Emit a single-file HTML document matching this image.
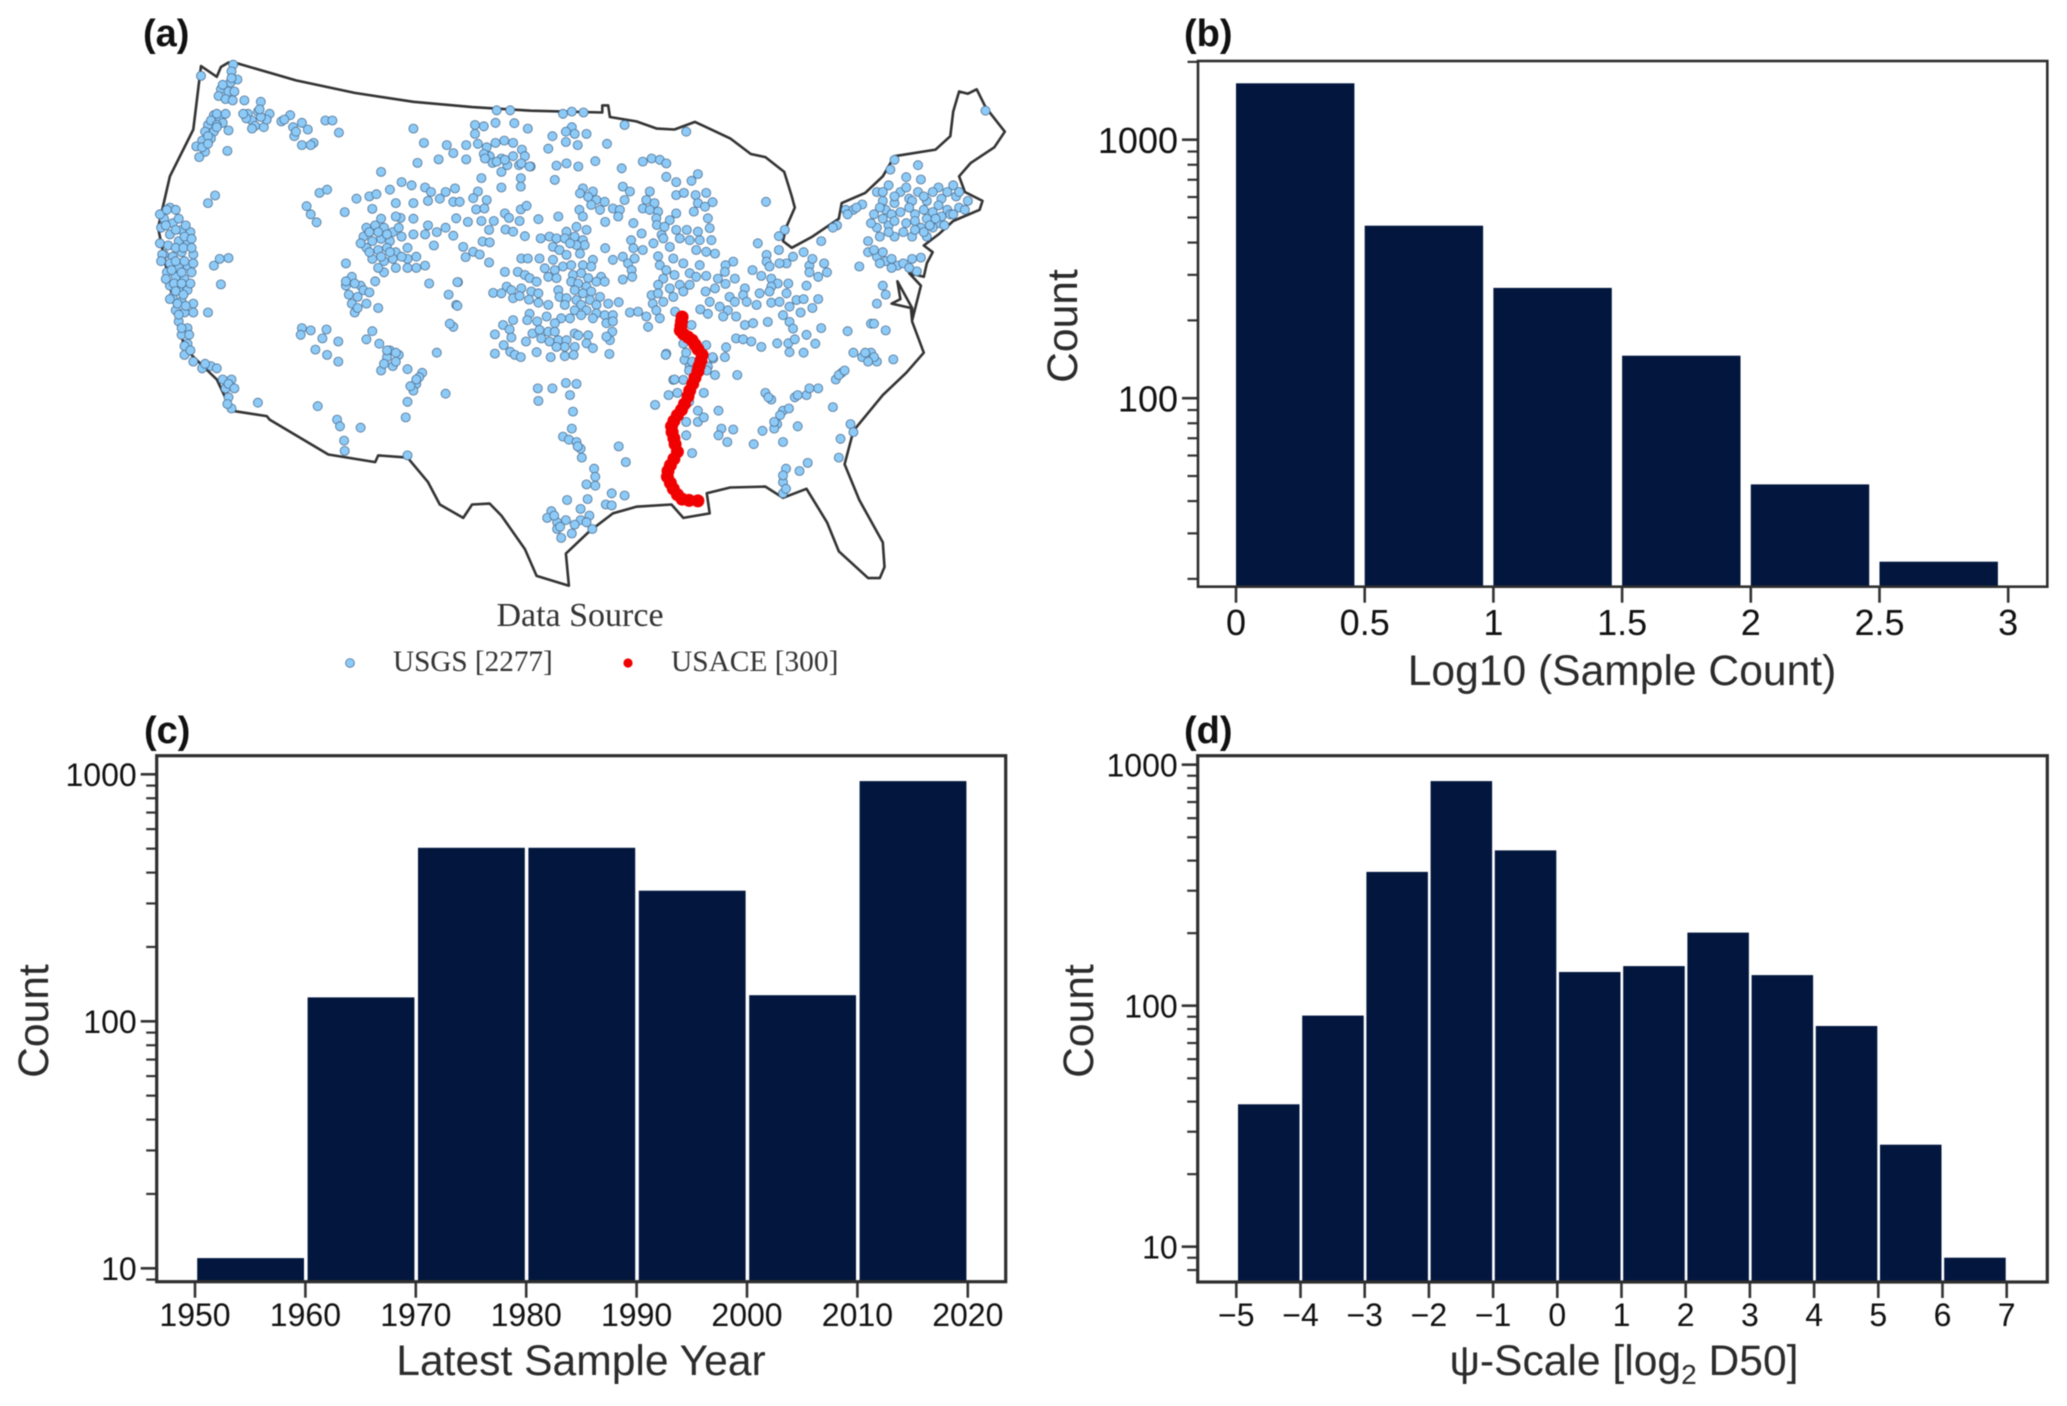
<!DOCTYPE html>
<html lang="en">
<head>
<meta charset="utf-8">
<title>Sediment sample dataset overview</title>
<style>
html,body{margin:0;padding:0;background:#fff;}
svg{display:block;font-family:"Liberation Sans",Arial,sans-serif;filter:blur(0.5px);}
.title{font-size:42.6px;fill:#2b2b2b;}
.plabel{font-size:38px;font-weight:bold;fill:#111;}
.legend{font-family:"Liberation Serif",serif;fill:#333;}
</style>
</head>
<body>
<svg id="figure" xmlns="http://www.w3.org/2000/svg" width="2067" height="1406" viewBox="0 0 2067 1406">
<rect width="2067" height="1406" fill="#fff"/>
<g id="map"></g>
<g id="pb"></g>
<g id="pc"></g>
<g id="pd"></g>

<text class="plabel" x="143" y="46">(a)</text>
<text class="plabel" x="1184" y="46">(b)</text>
<text class="plabel" x="144" y="743">(c)</text>
<text class="plabel" x="1184" y="743">(d)</text>

<text class="legend" x="580" y="626" text-anchor="middle" font-size="34">Data Source</text>
<circle cx="350" cy="663" r="4.4" fill="#8ccaf8" stroke="#4f6f8f" stroke-width="0.8"/>
<text class="legend" x="393" y="671" font-size="29.2">USGS [2277]</text>
<circle cx="628" cy="663" r="4.6" fill="#f00000"/>
<text class="legend" x="671" y="671" font-size="29.4">USACE [300]</text>

<text class="title" x="1622" y="685" text-anchor="middle">Log10 (Sample Count)</text>
<text class="title" transform="translate(1077,326) rotate(-90)" text-anchor="middle">Count</text>
<text class="title" x="581" y="1375" text-anchor="middle">Latest Sample Year</text>
<text class="title" transform="translate(48,1021) rotate(-90)" text-anchor="middle">Count</text>
<text class="title" x="1624" y="1375" text-anchor="middle">ψ-Scale [log<tspan dy="9" font-size="28" style="font-size:28px">2</tspan><tspan dy="-9"> D50]</tspan></text>
<text class="title" transform="translate(1093,1021) rotate(-90)" text-anchor="middle">Count</text>
</svg>

<script>
// Panel (b) data
const sampleBins = [0, 0.5, 1, 1.5, 2, 2.5];
const sampleCounts = [1652, 465, 267, 146, 46.4, 23.3];
const sampleXTicks = [0, 0.5, 1, 1.5, 2, 2.5, 3];
const sampleXLabels = ['0', '0.5', '1', '1.5', '2', '2.5', '3'];
const sampleYMajor = [100, 1000];
const sampleYMinor = [20, 30, 40, 50, 60, 70, 80, 90, 200, 300, 400, 500, 600, 700, 800, 900, 2000];

// Panel (c) data
const yearBins = [1950, 1960, 1970, 1980, 1990, 2000, 2010];
const yearCounts = [11, 125, 504, 504, 338, 127.6, 939];
const yearXTicks = [1950, 1960, 1970, 1980, 1990, 2000, 2010, 2020];
const yearXLabels = ['1950', '1960', '1970', '1980', '1990', '2000', '2010', '2020'];
const yearYMajor = [10, 100, 1000];
const yearYMinor = [9, 20, 30, 40, 50, 60, 70, 80, 90, 200, 300, 400, 500, 600, 700, 800, 900];

// Panel (d) data
const psiBins = [-5, -4, -3, -2, -1, 0, 1, 2, 3, 4, 5, 6];
const psiCounts = [39, 91, 359, 855, 441, 138, 146, 201, 134, 82.4, 26.5, 9];
const psiXTicks = [-5, -4, -3, -2, -1, 0, 1, 2, 3, 4, 5, 6, 7];
const psiXLabels = ['\u22125', '\u22124', '\u22123', '\u22122', '\u22121', '0', '1', '2', '3', '4', '5', '6', '7'];
const psiYMajor = [10, 100, 1000];
const psiYMinor = [8, 9, 20, 30, 40, 50, 60, 70, 80, 90, 200, 300, 400, 500, 600, 700, 800, 900];

// Panel (a) data, in projected map grid units
const mapBorder = [[138,148],[165,172],[172,150],[185,140],[200,142],[300,180],[400,208],[500,228],[600,240],[700,248],[822,252],[822,236],[832,236],[835,262],[880,272],[915,288],[945,290],[980,273],[1040,310],[1075,345],[1100,352],[1132,385],[1145,440],[1150,465],[1135,510],[1130,540],[1145,555],[1180,530],[1225,490],[1230,455],[1270,432],[1300,395],[1320,350],[1390,335],[1415,305],[1420,250],[1430,205],[1445,210],[1460,200],[1475,240],[1508,295],[1490,330],[1450,365],[1430,395],[1440,430],[1470,450],[1465,470],[1420,495],[1395,525],[1370,550],[1385,565],[1375,590],[1370,620],[1345,612],[1365,640],[1350,718],[1348,690],[1315,680],[1330,670],[1325,630],[1350,690],[1350,720],[1370,790],[1340,835],[1300,885],[1250,965],[1235,1040],[1260,1120],[1300,1215],[1303,1270],[1295,1295],[1275,1295],[1225,1235],[1205,1170],[1170,1095],[1130,1115],[1100,1090],[1040,1092],[1000,1105],[1005,1150],[960,1160],[940,1130],[880,1135],[840,1150],[800,1190],[760,1240],[765,1312],[710,1290],[690,1230],[650,1155],[630,1128],[600,1130],[585,1160],[545,1130],[525,1080],[490,1025],[440,1020],[435,1035],[355,1018],[255,940],[250,932],[190,920],[165,850],[110,780],[85,640],[65,510],[85,395],[125,290],[138,148]];

const usaceSites = [[958,710],[957,720],[956,730],[955,740],[960,748],[968,755],[975,762],[980,772],[985,782],[992,795],[990,808],[987,820],[985,832],[980,846],[976,860],[971,875],[968,888],[962,905],[957,918],[950,930],[944,943],[940,955],[941,968],[944,982],[946,995],[950,1012],[944,1028],[938,1042],[934,1055],[933,1068],[938,1082],[943,1095],[950,1108],[958,1118],[970,1121],[985,1122]];

const usgsSites = [
[138,170],[193,145],[190,160],[200,178],[188,185],[172,200],[185,205],[168,215],[180,222],[192,225],[212,225],[240,228],[190,175],[175,190],[195,205],
[160,258],[170,265],[150,280],[175,275],[145,295],[160,295],[185,292],[155,310],[140,315],[130,328],[145,340],[135,352],[183,338],[165,255],[155,270],[165,280],[150,305],[165,285],[180,255],[140,330],[150,322],
[218,255],[235,250],[255,255],[225,270],[245,285],[230,282],[215,265],[250,268],[275,272],[290,258],[295,285],[310,275],[297,305],[320,290],[310,325],[330,320],[350,270],[362,270],[373,297],[240,262],[225,288],[238,245],[210,255],[300,295],[325,325],[280,268],
[500,288],[518,320],[507,365],[445,385],[543,357],[557,325],[568,343],[590,325],[605,280],[620,283],[640,275],[605,300],[672,276],[695,288],[642,247],[665,247],[755,255],[770,250],[790,252],[860,280],[965,295],[770,285],[760,295],[775,300],[795,300],[737,305],[760,318],[780,325],[730,333],[830,322],[610,322],
[625,330],[640,320],[655,315],[670,320],[685,335],[690,350],[670,350],[650,355],[630,350],[620,345],[635,365],[660,370],[680,370],[700,373],[650,385],
[340,432],[353,425],[162,438],[150,455],[318,462],[325,480],[335,498],[383,475],[403,445],[425,440],[437,435],[430,468],[460,425],[480,408],[497,415],[520,420],[530,430],[555,430],[545,445],[470,455],[500,455],[525,450],
[420,510],[435,505],[450,510],[465,520],[415,530],[430,540],[445,535],[460,540],[475,510],[420,555],[440,560],[455,555],[470,565],[490,555],[430,580],[450,585],[465,580],[478,488],[500,490],[470,485],[445,490],[520,525],[540,520],[555,510],[535,550],[500,525],[490,580],[505,600],[520,595],[490,600],[470,600],[450,610],[435,630],[385,590],
[425,520],[440,520],[455,525],[410,545],[425,565],[445,575],[460,565],[480,575],[505,575],[480,530],[525,505],[440,600],
[590,357],[622,355],[642,362],[656,358],[684,366],[698,373],[744,371],[761,366],[781,373],[810,361],[855,377],[891,362],[906,355],[920,358],[931,366],[931,396],[948,408],[974,405],[985,390],[616,399],[650,420],[683,399],[683,418],[741,403],[948,437],[961,432],[981,437],[999,432],[1010,453],[985,455],[997,463],[978,474],[1101,452],
[571,422],[568,452],[579,452],[610,429],[602,444],[625,448],[607,469],[621,467],[573,489],[593,497],[616,495],[637,495],[629,515],[568,528],[618,541],[630,543],[585,553],[602,564],[613,570],[589,576],[629,588],[656,478],[663,488],[681,495],[683,469],[693,461],[713,491],[747,485],[657,514],[670,519],[690,529],[717,534],[684,579],[695,579],[576,632],[573,683],[568,732],
[783,470],[789,485],[778,508],[795,515],[761,519],[732,530],[744,534],[758,534],[775,530],[789,538],[792,549],[778,549],[767,545],[738,553],[749,560],[784,568],[806,582],[761,571],
[715,579],[738,582],[755,597],[769,594],[789,594],[803,597],[724,601],[741,605],[730,620],[744,623],[772,616],[786,612],[798,623],[820,620],[812,631],[826,631],[769,631],[781,635],[795,642],[775,650],[789,657],[803,653],[818,665],[747,650],[749,665],[761,668],[758,683],[778,672],[786,683],[801,672],[812,683],[795,695],[832,680],[850,677],[775,695],[786,706],[812,702],[826,706],[840,706],[806,713],[767,713],[752,713],[829,724],[840,720],[839,743],
[656,609],[678,609],[690,616],[698,623],[710,631],[659,642],[636,656],[650,657],[667,650],[684,646],[701,653],[713,657],[670,668],[681,663],[697,671],[713,678],[730,683],
[698,703],[670,717],[653,728],[639,749],[664,738],[667,756],[654,773],[639,792],[665,788],[673,795],[683,800],[692,765],[703,747],[694,717],[711,720],[727,709],[741,724],[715,739],[730,743],[741,743],[718,758],[732,765],[747,762],[761,762],[775,747],[781,751],[798,751],[795,769],[806,780],[758,777],[744,777],[775,777],[758,798],[773,795],[734,800],[710,789],[834,793],[835,762],[829,754],
[789,422],[784,433],[806,429],[798,441],[812,448],[826,452],[803,459],[818,470],[840,467],[852,470],[849,485],[827,497],[857,418],[869,429],[860,448],
[903,429],[897,448],[911,455],[891,467],[903,470],[917,474],[914,489],[915,504],[875,500],[889,523],[923,526],[871,538],[875,556],[891,560],[909,545],[857,575],[840,582],[866,590],[877,579],[872,605],[873,620],[857,626],[827,556],
[948,478],[937,493],[928,508],[948,515],[966,515],[985,519],[1005,511],[1002,489],[926,534],[954,534],[971,538],[988,538],[1008,538],[937,553],[982,560],[999,564],[1014,568],[917,574],[943,579],[960,590],[988,594],[920,594],[931,605],[926,624],[945,616],[971,612],[999,618],[982,620],[917,638],[937,646],[954,638],[971,638],[943,665],[960,653],[906,661],[917,657],[926,676],[908,680],[914,695],[869,700],[883,698],[897,709],[920,713],[900,732],[946,698],[974,728],[989,693],[1002,703],
[1133,515],[1123,529],[1087,545],[1123,560],[1102,571],[1102,586],[1107,597],[1147,575],[1136,590],[1124,590],[1045,586],[1032,594],[1019,624],[1031,609],[1048,624],[1032,636],[1014,646],[998,653],[1078,605],[1093,618],[1110,624],[1121,635],[1139,635],[1110,642],[1065,646],[1090,657],[1107,653],[1136,657],[1039,665],[1062,661],[1048,676],[1068,676],[1085,683],[1110,678],[1124,676],[1141,687],[1022,687],[1036,695],[1153,672],[1005,676],[1028,709],[1050,709],[1065,728],[1079,724],[1104,721],[1130,706],[1141,721],[1147,736],[1050,758],[1062,760],[1076,765],[1093,777],[1120,769],[1139,769],[1141,789],[1033,778],[1031,800],[1052,840],[1011,803],[1014,840],[999,773],[931,792],
[962,806],[971,821],[1002,821],[943,851],[960,851],
[1190,620],[1200,590],[1175,595],[1190,670],[1165,670],[1170,750],[1195,735],[1185,770],[1165,790],[1195,540],[1180,580],[1165,565],[1170,640],[1175,610],[1205,610],[1160,700],[1180,690],[1150,760],
[1240,742],[1280,725],[1305,740],[1250,790],[1265,800],[1280,790],[1290,810],[1318,805],[1230,835],[1220,850],[1190,870],[1170,885],[1150,890],[1130,920],[1100,880],[1110,895],[1120,950],[1155,955],[1095,965],[1115,960],[1130,990],[1080,995],[1215,912],[1245,950],[1250,968],[1228,983],[1225,1025],[1020,920],[1025,960],[1045,962],[1020,975],[1035,990],
[1125,930],[1140,915],[1115,945],[1155,885],[1175,870],[1105,890],[1225,840],[1235,830],[1270,790],[1285,800],[1275,810],
[1135,1050],[1130,1080],[1130,1105],[1158,1055],[1172,1037],[1130,1065],[1135,1095],
[1010,800],[1000,830],[945,850],[950,880],[935,885],[970,830],[975,810],[965,790],[960,770],[995,880],[985,920],[970,900],[965,945],[985,945],[995,935],[965,975],[975,1015],[912,907],[930,795],
[712,870],[737,870],[760,858],[778,860],[767,885],[713,898],[772,922],[770,960],[755,978],[765,985],[778,990],[785,1005],[787,1025],[850,1000],[862,1035],[808,1050],[810,1068],[795,1085],[810,1088],[838,1105],[860,1110],[762,1120],[797,1118],[785,1140],[828,1130],[838,1132],[735,1145],[728,1160],[745,1170],[760,1165],[785,1165],[800,1155],[805,1185],[752,1205],[770,1195],[745,1185],[740,1155],[750,1180],[775,1175],[795,1170],[780,1000],
[85,465],[95,470],[75,490],[90,500],[105,515],[120,520],[70,510],[85,525],[100,540],[115,545],[75,570],[90,575],[105,565],[125,570],[85,590],[100,600],[115,595],[80,610],[95,620],[110,625],[85,640],[100,645],[115,650],[90,665],[105,675],[125,680],[95,695],[110,700],[125,700],[150,700],[100,720],[115,735],[105,750],[115,770],[110,795],[125,810],[140,825],[155,820],[175,850],[190,850],[180,870],[185,890],[190,915],[235,902],[72,570],
[68,480],[80,470],[100,490],[112,505],[78,505],[95,515],[110,530],[122,535],[68,545],[82,550],[95,555],[108,555],[122,555],[70,585],[95,585],[110,585],[125,590],[88,605],[105,610],[122,610],[78,625],[92,635],[105,635],[120,635],[95,652],[108,660],[85,670],[98,680],[112,685],[100,705],[105,735],[118,750],[110,775],[120,785],[145,815],[165,825],[185,860],[195,870],[183,905],
[185,578],[160,595],[170,580],[172,637],
[385,640],[395,620],[410,640],[390,660],[405,665],[420,680],[400,700],[440,690],[527,635],[400,635],[415,650],[395,680],[405,690],[385,630],[425,655],
[575,632],[560,660],[575,685],[562,725],
[310,735],[325,740],[352,738],[308,750],[345,758],[372,765],[333,783],[353,795],[372,810],[420,760],[430,742],[442,770],[460,785],[475,795],[455,800],[465,820],[445,830],[490,827],[515,835],[505,860],[500,875],[490,900],[487,935],[540,790],[555,882],[337,910],[370,940],[375,955],[410,958],[382,987],[383,1010],[490,1020],[455,785],[470,810],[450,815],[470,790],[510,845],[505,850],[495,865],
[1320,358],[1360,370],[1313,380],[1340,397],[1365,402],[1290,430],[1310,415],[1330,430],[1360,430],[1395,420],[1420,415],[1445,450],[1300,450],[1320,455],[1345,445],[1375,450],[1400,445],[1425,440],[1285,480],[1305,470],[1330,475],[1355,480],[1385,475],[1410,470],[1430,465],[1290,510],[1310,505],[1340,500],[1365,510],[1395,500],[1375,530],[1350,530],[1320,530],[1275,540],[1275,565],[1290,575],[1305,585],[1325,595],[1350,580],[1365,577],[1260,597],[1315,600],[1358,608],[1300,640],[1305,660],[1290,680],[1285,725],[1237,470],[1265,458],[1222,505],[1250,470],[1475,248],
[1300,430],[1320,440],[1340,420],[1350,450],[1370,440],[1385,430],[1410,430],[1430,430],[1295,465],[1315,480],[1345,465],[1370,470],[1395,460],[1415,480],[1440,470],[1300,490],[1320,495],[1355,495],[1375,490],[1400,485],[1420,480],[1385,510],[1370,520],[1355,515],[1335,520],[1310,520],[1295,530],[1380,505],[1390,490],[1405,505],[1280,500],[1285,560],[1300,565],[1315,580],[1335,590],[1295,590],[1345,600],[1240,480],[1255,465],[1215,510]
];

const NS = 'http://www.w3.org/2000/svg';
function make(parent, tag) {
  const el = document.createElementNS(NS, tag);
  parent.appendChild(el);
  return el;
}

// Map axis functions
function eastToX(e) { return 120 + e / 1.7043; }
function northToY(n) { return n / 2.24; }

function drawMap() {
  const g = document.getElementById('map');
  const border = make(g, 'polygon');
  
  
  border.setAttribute('points', mapBorder.map(p => eastToX(p[0]).toFixed(1) + ',' + northToY(p[1]).toFixed(1)).join(' '));
  border.setAttribute('fill', '#fff');
  border.setAttribute('stroke', '#333');
  border.setAttribute('stroke-width', '2.6');
  border.setAttribute('stroke-linejoin', 'round');
  usgsSites.forEach(p => {
    const c = make(g, 'circle');
    
    
    c.setAttribute('cx', eastToX(p[0]).toFixed(1));
    c.setAttribute('cy', northToY(p[1]).toFixed(1));
    c.setAttribute('r', '4.5');
    c.setAttribute('fill', '#8ccaf8');
    c.setAttribute('stroke', '#4f6f8f');
    c.setAttribute('stroke-width', '0.8');
  });
  usaceSites.forEach(p => {
    const c = make(g, 'circle');
    
    
    c.setAttribute('cx', eastToX(p[0]).toFixed(1));
    c.setAttribute('cy', northToY(p[1]).toFixed(1));
    c.setAttribute('r', '6.5');
    c.setAttribute('fill', '#f00000');
  });
}

function drawHistogram(id, frame, scaleX, scaleY, bins, counts, barOffset, barWidth, xTicks, xLabels, yMajor, yMinor, style) {
  const g = document.getElementById(id);
  bins.forEach((b, i) => {
    const r = make(g, 'rect');
    
    
    const x0 = scaleX(b + barOffset);
    const x1 = scaleX(b + barOffset + barWidth);
    const yTop = scaleY(counts[i]);
    r.setAttribute('x', x0.toFixed(1));
    r.setAttribute('y', yTop.toFixed(1));
    r.setAttribute('width', (x1 - x0).toFixed(1));
    r.setAttribute('height', (frame.bottom - yTop).toFixed(1));
    r.setAttribute('fill', '#02163e');
  });
  xTicks.forEach((t, i) => {
    const x = scaleX(t);
    const l = make(g, 'line');
    
    
    l.setAttribute('x1', x); l.setAttribute('x2', x);
    l.setAttribute('y1', frame.bottom); l.setAttribute('y2', frame.bottom + 16);
    l.setAttribute('stroke', '#333'); l.setAttribute('stroke-width', '2.6');
    const s = make(g, 'text');
    
    
    s.setAttribute('x', x); s.setAttribute('y', style.xLabelY);
    s.setAttribute('text-anchor', 'middle');
    s.setAttribute('font-size', style.font);
    s.setAttribute('fill', '#111');
    s.textContent = xLabels[i];
  });
  yMajor.forEach(v => {
    const y = scaleY(v);
    const l = make(g, 'line');
    
    
    l.setAttribute('x1', frame.left - 16); l.setAttribute('x2', frame.left);
    l.setAttribute('y1', y); l.setAttribute('y2', y);
    l.setAttribute('stroke', '#333'); l.setAttribute('stroke-width', '2.6');
    const s = make(g, 'text');
    
    
    s.setAttribute('x', frame.left - 20); s.setAttribute('y', y + style.font * 0.37);
    s.setAttribute('text-anchor', 'end');
    s.setAttribute('font-size', style.font);
    s.setAttribute('fill', '#111');
    s.textContent = String(v);
  });
  yMinor.forEach(v => {
    const y = scaleY(v);
    const l = make(g, 'line');
    
    
    l.setAttribute('x1', frame.left - 10.5); l.setAttribute('x2', frame.left);
    l.setAttribute('y1', y); l.setAttribute('y2', y);
    l.setAttribute('stroke', '#333'); l.setAttribute('stroke-width', '2.2');
  });
  const box = make(g, 'rect');
  
  
  box.setAttribute('x', frame.left);
  box.setAttribute('y', frame.top);
  box.setAttribute('width', frame.right - frame.left);
  box.setAttribute('height', frame.bottom - frame.top);
  box.setAttribute('fill', 'none');
  box.setAttribute('stroke', '#2e2e2e');
  box.setAttribute('stroke-width', style.spine);
}

// Axis functions
function logAxis(y1000, decade) {
  return v => y1000 + decade * (3 - Math.log10(v));
}

drawMap();
drawHistogram('pb', {left: 1198, right: 2047.3, top: 61, bottom: 586.7},
  v => 1236 + 257.4 * v, logAxis(139.7, 258.5),
  sampleBins, sampleCounts, 0, 0.46,
  sampleXTicks, sampleXLabels, sampleYMajor, sampleYMinor,
  {font: 36, xLabelY: 635, spine: 2.6});
drawHistogram('pc', {left: 156.7, right: 1005.7, top: 755.7, bottom: 1281.7},
  v => 195 + 11.04 * (v - 1950), logAxis(774.3, 247),
  yearBins, yearCounts, 0.2, 9.67,
  yearXTicks, yearXLabels, yearYMajor, yearYMinor,
  {font: 32, xLabelY: 1326, spine: 3.2});
drawHistogram('pd', {left: 1197.7, right: 2047.3, top: 755.7, bottom: 1282},
  v => 1236.3 + 64.2 * (v + 5), logAxis(764.7, 241),
  psiBins, psiCounts, 0.026, 0.958,
  psiXTicks, psiXLabels, psiYMajor, psiYMinor,
  {font: 32, xLabelY: 1326, spine: 3.2});
</script>
</body>
</html>
